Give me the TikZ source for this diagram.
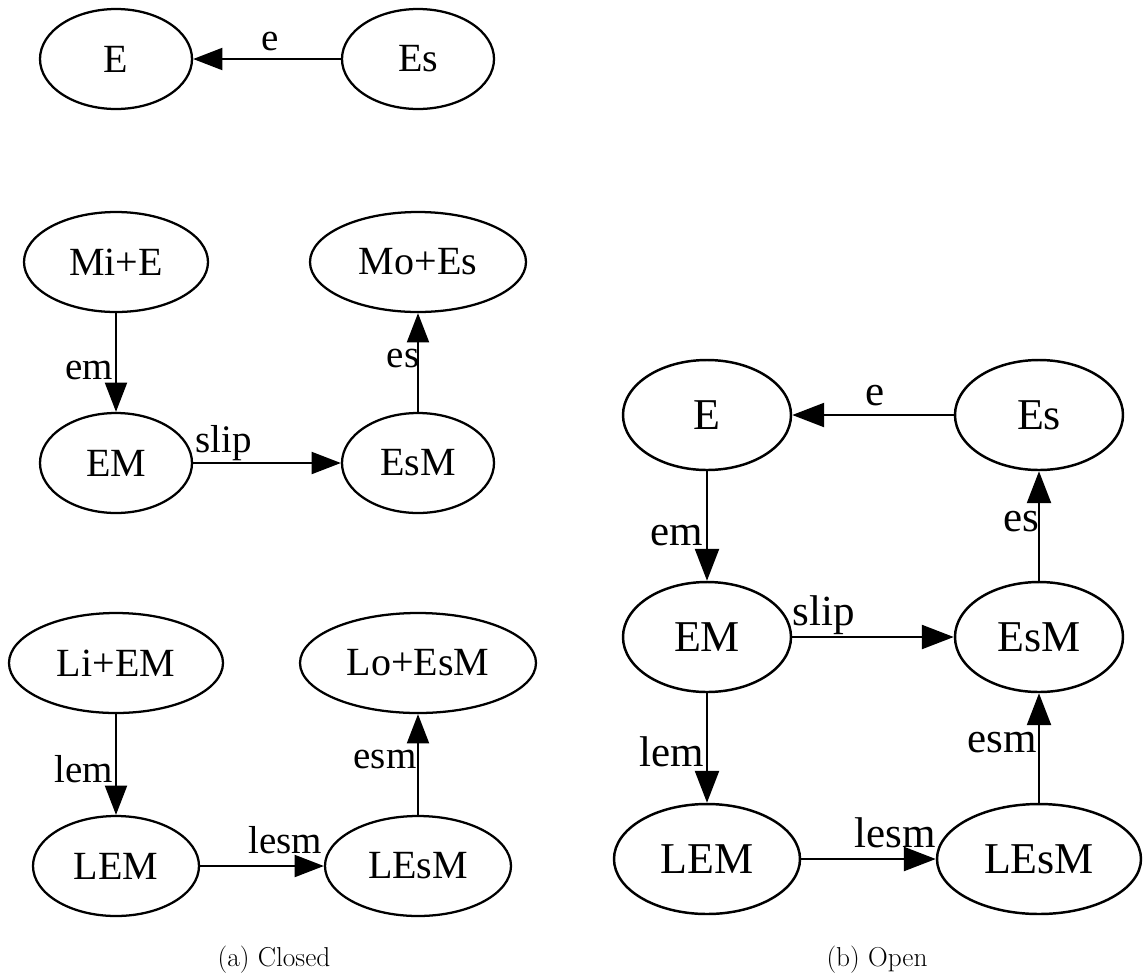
\documentclass[tikz,border=0pt]{standalone}
\usepackage{fontspec}
\usepackage{tikz}
\usetikzlibrary{shapes.geometric}
\usetikzlibrary{arrows.meta}
\newfontfamily\dotfont{Liberation Serif}

\tikzset{
  st/.style={ellipse, draw, line width=1.7pt, inner sep=0pt, minimum height=75pt, font=\dotfont\fontsize{30}{36}\selectfont},
  stb/.style={ellipse, draw, line width=1.85pt, inner sep=0pt, minimum height=82.5pt, font=\dotfont\fontsize{33}{40}\selectfont},
  tr/.style={line width=1.7pt, -{Triangle[length=22pt,width=16.5pt]}},
  trb/.style={line width=1.85pt, -{Triangle[length=24pt,width=18pt]}},
  lbl/.style={anchor=base, inner sep=0pt, font=\dotfont\fontsize{29.25}{35}\selectfont},
  lblb/.style={anchor=base, inner sep=0pt, font=\dotfont\fontsize{32.25}{39}\selectfont},
  subcap/.style={anchor=base, inner sep=0pt, font=\fontsize{20.5}{24}\selectfont}
}

\begin{document}
\begin{tikzpicture}[x=0.75pt,y=0.75pt,yscale=-1,xscale=1]
\useasboundingbox (0,0) rectangle (1143,976);

%Shape: Ellipse (a) closed
\node[st, minimum width=114pt] (cE) at (116,59) {E};
\node[st, minimum width=114pt] (cEs) at (418,59) {Es};
\node[st, minimum width=138pt] (cMiE) at (116,262) {Mi+E};
\node[st, minimum width=162pt] (cMoEs) at (418,262) {Mo+Es};
\node[st, minimum width=114pt] (cEM) at (116,463) {EM};
\node[st, minimum width=114pt] (cEsM) at (418,463) {EsM};
\node[st, minimum width=160.5pt] (cLiEM) at (116,663) {Li+EM};
\node[st, minimum width=177pt] (cLoEsM) at (418,663) {Lo+EsM};
\node[st, minimum width=124.5pt] (cLEM) at (116,866) {LEM};
\node[st, minimum width=139.5pt] (cLEsM) at (418,866) {LEsM};

%Straight Lines
\draw[tr] (cEs) -- (cE);
\draw[tr] (cMiE) -- (cEM);
\draw[tr] (cEM) -- (cEsM);
\draw[tr] (cEsM) -- (cMoEs);
\draw[tr] (cLiEM) -- (cLEM);
\draw[tr] (cLEM) -- (cLEsM);
\draw[tr] (cLEsM) -- (cLoEsM);

% Text Node
\node[lbl] (clE) at (270,50) {e};
\node[lbl] (clEM) at (89,379) {em};
\node[lbl] (clSlip) at (224,452) {slip};
\node[lbl] (clEs) at (403,367) {es};
\node[lbl] (clLEM) at (84,782) {lem};
\node[lbl] (clEsM) at (385,768) {esm};
\node[lbl] (clLEsM) at (285,853) {lesm};

%Shape: Ellipse (b) open
\node[stb, minimum width=126pt] (oE) at (707,415) {E};
\node[stb, minimum width=126pt] (oEs) at (1039,415) {Es};
\node[stb, minimum width=126pt] (oEM) at (707,637) {EM};
\node[stb, minimum width=126pt] (oEsM) at (1039,637) {EsM};
\node[stb, minimum width=139.5pt] (oLEM) at (707,859) {LEM};
\node[stb, minimum width=153pt] (oLEsM) at (1039,859) {LEsM};

%Straight Lines
\draw[trb] (oEs) -- (oE);
\draw[trb] (oE) -- (oEM);
\draw[trb] (oEM) -- (oEsM);
\draw[trb] (oEsM) -- (oEs);
\draw[trb] (oEM) -- (oLEM);
\draw[trb] (oLEM) -- (oLEsM);
\draw[trb] (oLEsM) -- (oEsM);

% Text Node
\node[lblb] (olE) at (875,405) {e};
\node[lblb] (olEM) at (677,545) {em};
\node[lblb] (olSlip) at (824,625) {slip};
\node[lblb] (olEs) at (1021,531) {es};
\node[lblb] (olLEM) at (672,766) {lem};
\node[lblb] (olEsM) at (1002,752) {esm};
\node[lblb] (olLEsM) at (895,847) {lesm};

% Captions
\node[subcap] (capA) at (274,966) {(a) Closed};
\node[subcap] (capB) at (877,966) {(b) Open};

\end{tikzpicture}
\end{document}
